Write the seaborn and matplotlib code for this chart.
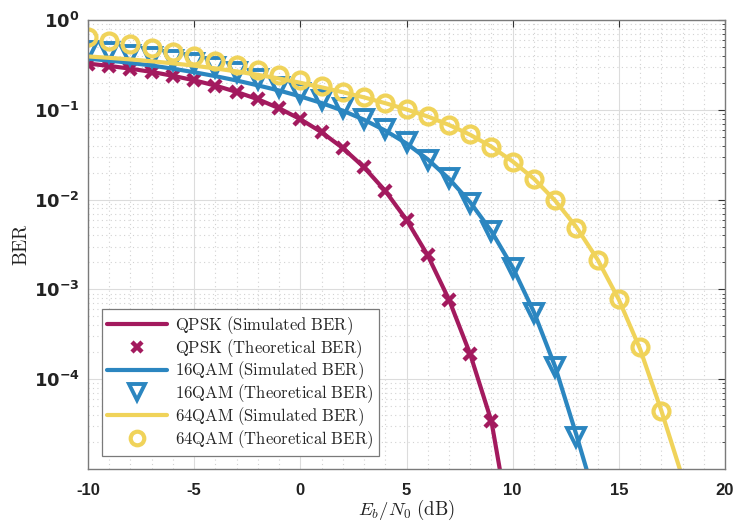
import matplotlib
matplotlib.use("Agg")
import matplotlib.pyplot as plt
import seaborn as sns
import pandas as pd
from matplotlib.ticker import FixedLocator, NullFormatter

# ---------------- data ----------------
ebn0_qpsk_sim = list(range(-10, 11))
ber_qpsk_sim = [0.327, 0.308, 0.287, 0.264, 0.239, 0.213, 0.186, 0.158, 0.131, 0.104,
                0.0786, 0.0563, 0.0375, 0.0229, 0.0125, 0.00595, 0.00239, 7.7e-4, 1.9e-4, 3.4e-5,
                1.5e-6]
ebn0_qpsk_th = list(range(-10, 10))
ber_qpsk_th = [0.327, 0.308, 0.287, 0.264, 0.239, 0.213, 0.186, 0.158, 0.131, 0.104,
               0.0786, 0.0563, 0.0375, 0.0229, 0.0125, 0.00595, 0.00239, 7.7e-4, 1.9e-4, 3.4e-5]

ebn0_16_sim = list(range(-10, 15))
ber_16_sim = [0.371, 0.353, 0.333, 0.311, 0.287, 0.262, 0.237, 0.212, 0.187, 0.164,
              0.141, 0.119, 0.0978, 0.0775, 0.0587, 0.0422, 0.0281, 0.0171, 0.00934, 0.00444,
              0.00176, 5.6e-4, 1.38e-4, 2.4e-5, 3.8e-6]
ebn0_16_th = list(range(-10, 14))
ber_16_th = [0.455, 0.435, 0.412, 0.388, 0.36, 0.33, 0.30, 0.265, 0.222, 0.180,
             0.152, 0.128, 0.104, 0.080, 0.061, 0.0435, 0.0278, 0.0172, 0.0092, 0.00450,
             0.00175, 5.5e-4, 1.37e-4, 2.3e-5]

ebn0_64_sim = list(range(-10, 19))
ber_64_sim = [0.393, 0.379, 0.364, 0.347, 0.329, 0.310, 0.289, 0.2675, 0.245, 0.223,
              0.200, 0.178, 0.157, 0.1375, 0.1185, 0.101, 0.0842, 0.0679, 0.0527, 0.0388,
              0.0266, 0.0171, 0.00974, 0.00494, 0.00215, 7.7e-4, 2.17e-4, 4.48e-5, 8e-6]
ebn0_64_th = list(range(-10, 18))
ber_64_th = [0.65, 0.59, 0.535, 0.485, 0.44, 0.395, 0.352, 0.313, 0.277, 0.243,
             0.212, 0.185, 0.159, 0.139, 0.120, 0.101, 0.0860, 0.0676, 0.0532, 0.0389,
             0.0263, 0.0170, 0.00984, 0.00483, 0.00215, 7.76e-4, 2.28e-4, 4.41e-5]

legend_labels = [r"$\mathrm{QPSK\ (Simulated\ BER)}$",
                 r"$\mathrm{QPSK\ (Theoretical\ BER)}$",
                 r"$\mathrm{16QAM\ (Simulated\ BER)}$",
                 r"$\mathrm{16QAM\ (Theoretical\ BER)}$",
                 r"$\mathrm{64QAM\ (Simulated\ BER)}$",
                 r"$\mathrm{64QAM\ (Theoretical\ BER)}$"]

x_ticks = [-10, -5, 0, 5, 10, 15, 20]
x_tick_labels = ["-10", "-5", "0", "5", "10", "15", "20"]
y_ticks = [1e-4, 1e-3, 1e-2, 1e-1, 1.0]
y_tick_labels = [r"$\mathbf{10^{-4}}$", r"$\mathbf{10^{-3}}$", r"$\mathbf{10^{-2}}$",
                 r"$\mathbf{10^{-1}}$", r"$\mathbf{10^{0}}$"]

# ---------------- style ----------------
sns.set_theme(style="white")
plt.rcParams["mathtext.fontset"] = "cm"
plt.rcParams["axes.unicode_minus"] = False

c_qpsk = "#A31A5E"
c_16 = "#2B86C0"
c_64 = "#F0D35A"

fig = plt.figure(figsize=(7.36, 5.21), dpi=100)
ax = fig.add_axes([88 / 736, 52 / 521, 637 / 736, 449 / 521])
ax.set_yscale("log")

lw = 3.0
sns.lineplot(x=ebn0_qpsk_sim, y=ber_qpsk_sim, ax=ax, color=c_qpsk, lw=lw,
             label=legend_labels[0], sort=False, estimator=None)
sns.lineplot(x=ebn0_qpsk_th, y=ber_qpsk_th, ax=ax, color=c_qpsk, linestyle="",
             marker="x", markersize=8, markeredgewidth=3.2, markeredgecolor=c_qpsk,
             label=legend_labels[1], sort=False, estimator=None)
sns.lineplot(x=ebn0_16_sim, y=ber_16_sim, ax=ax, color=c_16, lw=lw,
             label=legend_labels[2], sort=False, estimator=None)
sns.lineplot(x=ebn0_16_th, y=ber_16_th, ax=ax, color=c_16, linestyle="",
             marker="v", markersize=13, markeredgewidth=2.8, markerfacecolor="none",
             markeredgecolor=c_16, label=legend_labels[3], sort=False, estimator=None)
sns.lineplot(x=ebn0_64_sim, y=ber_64_sim, ax=ax, color=c_64, lw=lw,
             label=legend_labels[4], sort=False, estimator=None)
sns.lineplot(x=ebn0_64_th, y=ber_64_th, ax=ax, color=c_64, linestyle="",
             marker="o", markersize=11.5, markeredgewidth=3.0, markerfacecolor="none",
             markeredgecolor=c_64, label=legend_labels[5], sort=False, estimator=None)

ax.set_xlim(-10, 20)
ax.set_ylim(1e-5, 1.0)

ax.xaxis.set_major_locator(FixedLocator(x_ticks))
ax.set_xticklabels(x_tick_labels, fontsize=12, fontweight="bold", family="Liberation Sans")
ax.xaxis.set_minor_locator(FixedLocator(list(range(-10, 21))))
ax.yaxis.set_major_locator(FixedLocator(y_ticks))
ax.set_yticklabels(y_tick_labels, fontsize=13, math_fontfamily="dejavusans")
minor_y = [m * 10.0 ** e for e in range(-5, 0) for m in range(2, 10)]
ax.yaxis.set_minor_locator(FixedLocator(minor_y))
ax.yaxis.set_minor_formatter(NullFormatter())

ax.grid(which="major", color="#dcdcdc", linestyle="-", linewidth=0.8)
ax.grid(which="minor", color="#d2d2d2", linestyle=(0, (1, 3)), linewidth=0.8)
ax.set_axisbelow(True)

ax.tick_params(which="both", direction="in", top=True, right=True, colors="#333333",
               labelcolor="#222222")
ax.tick_params(which="major", length=5, width=0.8)
ax.tick_params(axis="x", which="major", pad=10)
ax.tick_params(axis="y", which="major", pad=6)
ax.tick_params(which="minor", length=2.5, width=0.6)
ax.tick_params(axis="x", which="minor", length=0)
for s in ax.spines.values():
    s.set_color("#7a7a7a")
    s.set_linewidth(1.0)

ax.set_xlabel(r"$E_b/N_0\ \mathrm{(dB)}$", fontsize=13.5, labelpad=0, color="#222222")
ax.set_ylabel(r"$\mathrm{BER}$", fontsize=14, labelpad=2, color="#222222")

handles, labels = ax.get_legend_handles_labels()
leg = ax.legend(handles, labels, loc="lower left", bbox_to_anchor=(0.022, 0.03),
                borderaxespad=0, fontsize=12, handlelength=3.6, labelspacing=0.0,
                handletextpad=0.5, borderpad=0.3, frameon=True, fancybox=False,
                framealpha=1, edgecolor="#7a7a7a", markerscale=0.85)
leg.get_frame().set_linewidth(0.9)

fig.savefig("out.png", dpi=100)
